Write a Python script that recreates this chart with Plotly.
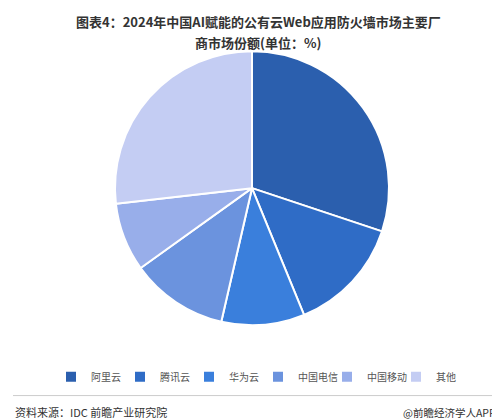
import plotly.graph_objects as go

labels = ["阿里云", "腾讯云", "华为云", "中国电信", "中国移动", "其他"]
shares = [30.1, 13.7, 9.8, 11.5, 8.1, 26.8]
colors = ["#2b5fae", "#2f6cc6", "#3a7fdc", "#6b93de", "#98aeea", "#c4cdf3"]

fig = go.Figure(
    go.Pie(
        labels=labels,
        values=shares,
        sort=False,
        direction="clockwise",
        rotation=0,
        marker=dict(colors=colors, line=dict(color="#ffffff", width=2)),
        textinfo="none",
        domain=dict(x=[0.2, 0.776], y=[0.243, 0.897]),
    )
)

fig.update_layout(
    width=500,
    height=419,
    margin=dict(l=0, r=0, t=0, b=0),
    paper_bgcolor="#ffffff",
    font=dict(family="Noto Sans CJK SC", color="#333333"),
    legend=dict(
        orientation="h", x=0.5, xanchor="center", y=0.12, yanchor="middle",
        font=dict(size=10, color="#555555"),
        entrywidth=24, entrywidthmode="pixels", itemwidth=30,
    ),
)

fig.add_annotation(
    text="<b>图表4：2024年中国AI赋能的公有云Web应用防火墙市场主要厂</b>",
    xref="paper", yref="paper", x=0.5, y=0.995, xanchor="center", yanchor="top",
    showarrow=False, font=dict(size=13, color="#333333"),
)
fig.add_annotation(
    text="<b>商市场份额(单位：%)</b>",
    xref="paper", yref="paper", x=0.5, y=0.945, xanchor="center", yanchor="top",
    showarrow=False, font=dict(size=13, color="#333333"),
)
fig.add_shape(type="line", xref="paper", yref="paper", x0=0.01, x1=0.99,
              y0=0.075, y1=0.075, line=dict(color="#cccccc", width=1))
fig.add_annotation(text="资料来源：IDC 前瞻产业研究院", xref="paper", yref="paper",
                   x=0.01, y=0.035, xanchor="left", yanchor="middle",
                   showarrow=False, font=dict(size=11, color="#333333"))
fig.add_annotation(text="@前瞻经济学人APP", xref="paper", yref="paper",
                   x=0.98, y=0.035, xanchor="right", yanchor="middle",
                   showarrow=False, font=dict(size=10.5, color="#333333"))

fig.write_html("out.html")
